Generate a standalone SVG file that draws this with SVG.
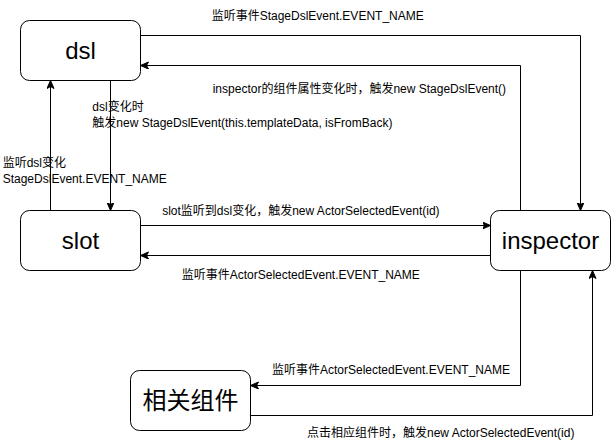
<svg xmlns="http://www.w3.org/2000/svg" width="611" height="441" viewBox="0 0 611 441">
<style>
  .node rect { fill: #ffffff; stroke: #000000; stroke-width: 1; }
  .node text { font-family: "Liberation Sans", "Noto Sans CJK SC", sans-serif; font-size: 24px; fill: #000000; text-anchor: middle; }
  .edge path { fill: none; stroke: #000000; stroke-width: 1; marker-end: url(#arrow); }
  .lbl { font-family: "Liberation Sans", "Noto Sans CJK SC", sans-serif; font-size: 12px; fill: #000000; }
  .mid { text-anchor: middle; }
</style>
<defs>
  <marker id="arrow" markerUnits="userSpaceOnUse" markerWidth="10" markerHeight="10" refX="8" refY="3.5" orient="auto">
    <path d="M0,0 L8,3.5 L0,7 L2,3.5 Z" fill="#000000" stroke="#000000" stroke-width="1"/>
  </marker>
</defs>
<rect x="0" y="0" width="611" height="441" fill="#ffffff"/>
<g id="connectors" class="edge">
  <path d="M140.5,35.5 H580.5 V210.5"/>
  <path d="M520.5,210.5 V65.5 H140.5"/>
  <path d="M110.5,80.5 V210.5"/>
  <path d="M50.5,210.5 V80.5"/>
  <path d="M140.5,225.5 H490.5"/>
  <path d="M490.5,255.5 H140.5"/>
  <path d="M520.5,270.5 V385.5 H250.5"/>
  <path d="M250.5,415.5 H592.5 V270.5"/>
</g>
<g id="labels">
  <text class="lbl mid" x="317.7" y="20">监听事件StageDslEvent.EVENT_NAME</text>
  <text class="lbl mid" x="359.4" y="93">inspector的组件属性变化时，触发new StageDslEvent()</text>
  <text class="lbl" x="92.3" y="111">dsl变化时</text>
  <text class="lbl" x="92.3" y="127">触发new StageDslEvent(this.templateData, isFromBack)</text>
  <text class="lbl" x="2.7" y="167">监听dsl变化</text>
  <text class="lbl" x="2.7" y="182.5">StageDslEvent.EVENT_NAME</text>
  <text class="lbl mid" x="300.9" y="215">slot监听到dsl变化，触发new ActorSelectedEvent(id)</text>
  <text class="lbl mid" x="300.8" y="279">监听事件ActorSelectedEvent.EVENT_NAME</text>
  <text class="lbl mid" x="391" y="374">监听事件ActorSelectedEvent.EVENT_NAME</text>
  <text class="lbl mid" x="440.7" y="436.5">点击相应组件时，触发new ActorSelectedEvent(id)</text>
</g>
<g id="node-dsl" class="node">
  <rect x="20.5" y="20.5" width="120" height="60" rx="9" ry="9"/>
  <text x="80.5" y="59">dsl</text>
</g>
<g id="node-slot" class="node">
  <rect x="20.5" y="210.5" width="120" height="60" rx="9" ry="9"/>
  <text x="80.5" y="249">slot</text>
</g>
<g id="node-inspector" class="node">
  <rect x="490.5" y="210.5" width="120" height="60" rx="9" ry="9"/>
  <text x="550.5" y="249">inspector</text>
</g>
<g id="node-related" class="node">
  <rect x="130.5" y="370.5" width="120" height="60" rx="9" ry="9"/>
  <text x="190.5" y="409">相关组件</text>
</g>
</svg>
